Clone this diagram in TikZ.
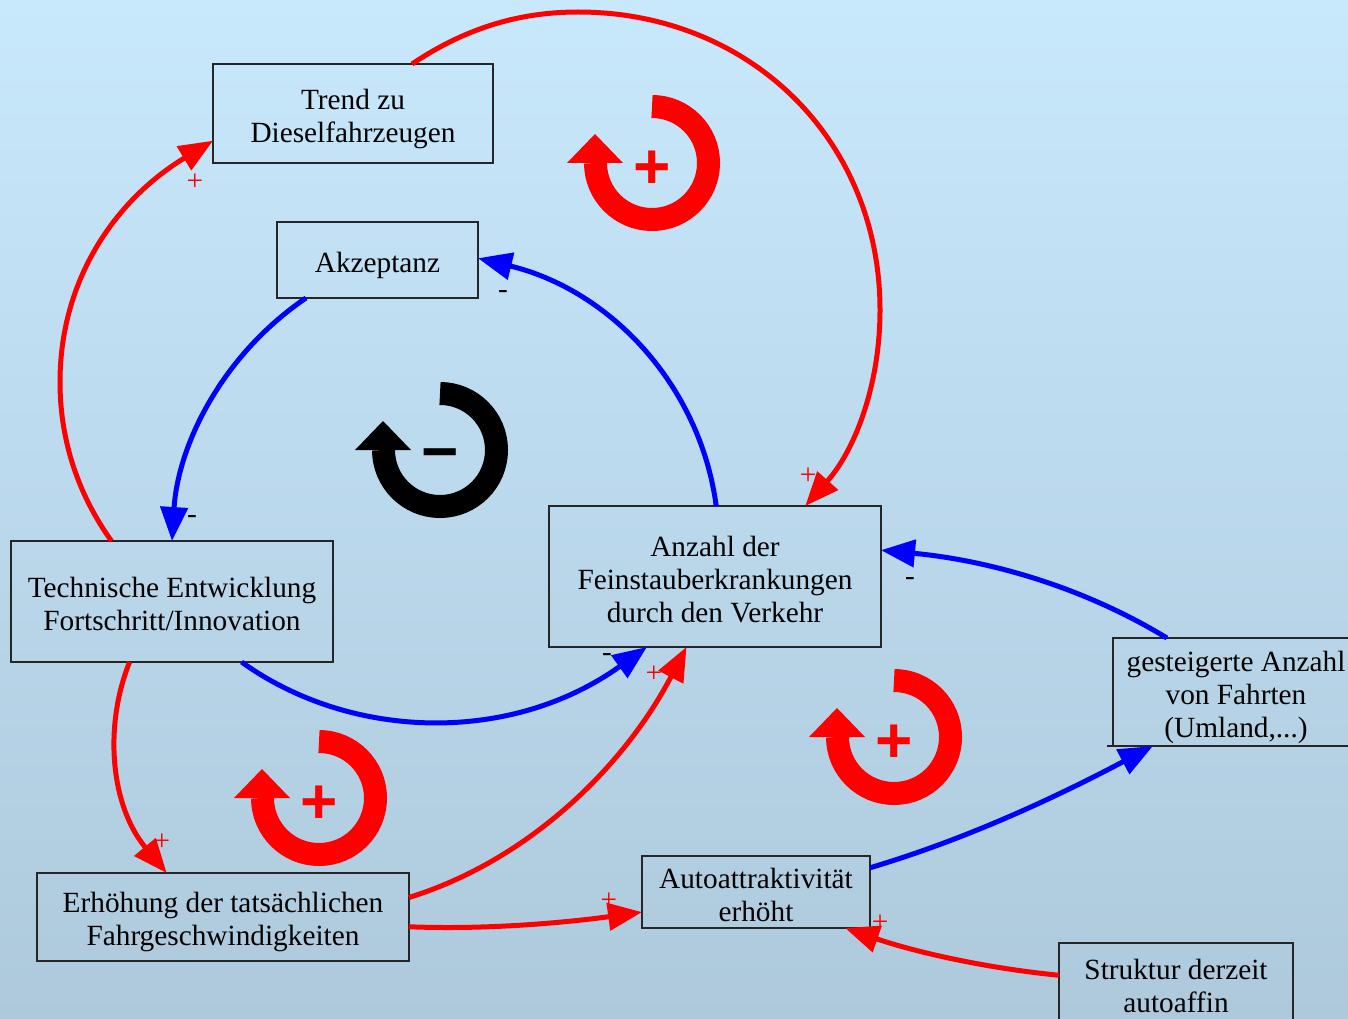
\documentclass[tikz,border=0pt]{standalone}
\usepackage{fontspec}
\setmainfont{Liberation Serif}
\newfontfamily\signfont{Liberation Sans}
\usetikzlibrary{arrows.meta}
\definecolor{skytop}{RGB}{200,232,252}
\definecolor{skybottom}{RGB}{174,201,220}
\newcommand{\topgap}[1]{\rule{0pt}{#1pt}}
\tikzset{
  boxnode/.style={draw=black!85, line width=1.6pt, inner sep=0pt, outer sep=0pt, align=center,
    font=\fontsize{29.3}{33}\selectfont},
  linkred/.style={draw=red, line width=5pt, -{Triangle[length=34pt,width=27pt]}},
  linkblue/.style={draw=blue, line width=5pt, -{Triangle[length=34pt,width=27pt]}},
  signlab/.style={inner sep=0pt, font=\fontsize{29.3}{33}\selectfont},
  loopsign/.style={inner sep=0pt, font=\signfont\bfseries\fontsize{64}{64}\selectfont}
}
\begin{document}
\begin{tikzpicture}[x=1pt,y=-1pt]
  \useasboundingbox (0,0) rectangle (1348,1019);
  \shade[top color=skytop, bottom color=skybottom] (0,0) rectangle (1348,1019);
  % boxes
  \node[boxnode, minimum width=280pt, minimum height=99pt] (trend) at (353,113.5) {\topgap{32}Trend zu\\Dieselfahrzeugen};
  \node[boxnode, minimum width=201pt, minimum height=76pt] (akzeptanz) at (377.5,260) {\topgap{32}Akzeptanz};
  \node[boxnode, minimum width=322pt, minimum height=121pt] (technik) at (172,601.5) {\topgap{26}Technische Entwicklung\\Fortschritt/Innovation};
  \node[boxnode, minimum width=332pt, minimum height=141pt] (anzahl) at (715,576.5) {\topgap{26}Anzahl der\\Feinstauberkrankungen\\durch den Verkehr};
  \node[boxnode, minimum width=372pt, minimum height=88pt] (erhoehung) at (223,917) {\topgap{30}Erhöhung der tatsächlichen\\Fahrgeschwindigkeiten};
  \node[boxnode, minimum width=228pt, minimum height=72pt] (auto) at (756,892) {\topgap{26}Autoattraktivität\\erhöht};
  \node[boxnode, minimum width=246pt, minimum height=108pt] (fahrten) at (1236,692) {\topgap{32}gesteigerte Anzahl\\von Fahrten\\(Umland,...)};
  \node[boxnode, minimum width=234pt, minimum height=85pt] (struktur) at (1176,985.5) {Struktur derzeit\\autoaffin};
  \draw[black!85, line width=1.6pt] (fahrten.south west) -- ++(-6,0);
  % links
  \draw[linkred] (trend.40) .. controls (470,25) and (525,12) .. (578,12)
    .. controls (750,12) and (880,140) .. (880,310)
    .. controls (880,385) and (855,450) .. (anzahl.38.6);
  \draw[linkred] (technik.135.2) .. controls (75,490) and (60,435) .. (60,382)
    .. controls (60,280) and (115,200) .. (trend.191.5);
  \draw[linkblue] (akzeptanz.208.5) .. controls (222,355) and (178,445) .. (technik.90.5);
  \draw[linkblue] (anzahl.89.2) .. controls (700,385) and (610,290) .. (akzeptanz.1.7);
  \draw[linkblue] (technik.319.5) .. controls (350,740) and (510,745) .. (anzahl.226.4);
  \draw[linkred] (technik.235.2) .. controls (104,725) and (110,805) .. (erhoehung.142.8);
  \draw[linkred] (erhoehung.6.1) .. controls (530,860) and (625,765) .. (anzahl.248.6);
  \draw[linkred] (erhoehung.-3.4) .. controls (490,930) and (570,922) .. (auto.190.4);
  \draw[linkblue] (auto.12.8) .. controls (970,838) and (1060,795) .. (fahrten.213);
  \draw[linkblue] (fahrten.142) .. controls (1080,585) and (985,560) .. (anzahl.9.3);
  \draw[linkred] (struktur.175.4) .. controls (985,968) and (915,952) .. (auto.338);
  % link signs
  \foreach \x/\y/\lab/\col/\nam in {195/182/+/red/pa,503/294.5/-/black/ma,192/519.5/-/black/mb,808/476/+/red/pb,
      910/581.5/-/black/mc,607/657.5/-/black/md,654/674/+/red/pc,162/842/+/red/pd,609/901/+/red/pe,880/923/+/red/pf} {
    \node[signlab, text=\col] (\nam) at (\x,\y) {\lab};
  }
  % loop marks
  \foreach \lx/\ly/\lcol/\lab/\lsh/\nam in {652/163/red/+/7/la,440/450/black/−/11/lb,319/798/red/+/7/lc,894/737/red/+/7/ld} {
    \draw[\lcol, line width=23pt] (\lx,\ly-56.5) arc[start angle=-90, end angle=180, radius=56.5];
    \fill[\lcol] (\lx-85,\ly) -- (\lx-57,\ly-29) -- (\lx-29,\ly) -- cycle;
    \node[loopsign, text=\lcol] (\nam) at (\lx,\ly+\lsh) {\lab};
  }
\end{tikzpicture}
\end{document}
